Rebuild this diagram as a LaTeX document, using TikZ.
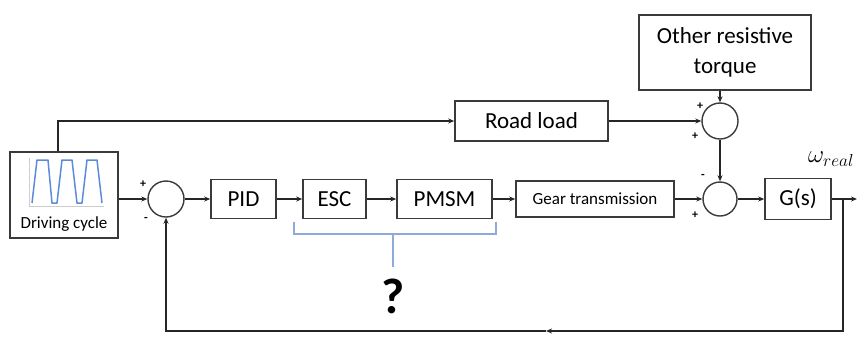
\documentclass[tikz,border=0pt]{standalone}
\usepackage{fontspec}
\setmainfont{Carlito}
\usetikzlibrary{arrows.meta,calc}
\definecolor{boxline}{HTML}{3A3A3A}
\definecolor{wave}{HTML}{5B8BD9}
\definecolor{brk}{HTML}{8EAADB}
\begin{document}
\begin{tikzpicture}[x=1pt,y=-1pt,
  blk/.style={draw=boxline,line width=1.6pt,inner sep=0pt,align=center,font=\fontsize{23}{30}\selectfont},
  sumj/.style={draw=boxline,line width=1.4pt,circle,inner sep=0pt,minimum size=36pt},
  con/.style={draw=black!85,line width=1.3pt},
  arr/.style={con,-{Stealth[length=6pt,width=5pt]}},
  sgn/.style={font=\fontsize{12}{12}\selectfont\bfseries,inner sep=0pt}]
\useasboundingbox (0,0) rectangle (864,338);
% blocks
\node[blk,minimum width=108pt,minimum height=86pt] (dc) at (64,195) {};
\node[font=\fontsize{17}{17}\selectfont,inner sep=0pt] (dct) at (64,224) {Driving cycle};
\node[blk,minimum width=65pt,minimum height=39pt] (pid) at (243.5,199) {PID};
\node[blk,minimum width=63pt,minimum height=39pt] (esc) at (334.5,199) {ESC};
\node[blk,minimum width=95pt,minimum height=39pt] (pmsm) at (444.5,199) {PMSM};
\node[blk,minimum width=158pt,minimum height=36pt,font=\fontsize{17}{17}\selectfont] (gear) at (595,199) {Gear transmission};
\node[blk,minimum width=66pt,minimum height=41pt] (gs) at (798,199) {G(s)};
\node[blk,minimum width=153pt,minimum height=40pt] (road) at (531.5,121) {Road load};
\node[blk,minimum width=172pt,minimum height=75pt] (other) at (725,52.5) {Other resistive\\torque};
% summing junctions
\node[sumj] (s1) at (166,199) {};
\node[sumj,minimum size=34pt] (s2) at (720,199) {};
\node[sumj] (s3) at (720,121) {};
% signs
\node[sgn] at (143,184) {+};
\node[sgn] at (146,219) {-};
\node[sgn] at (703,176) {-};
\node[sgn] at (695,215) {+};
\node[sgn] at (700,106) {+};
\node[sgn] at (695,136) {+};
% driving cycle plot
\draw[black!20,line width=0.6pt] (29,158) -- (29,206) -- (104,206);
\foreach \yy in {166,174,182,190,198} \draw[black!10,line width=0.4pt] (29,\yy) -- (31,\yy);
\draw[wave,line width=1.5pt,line join=round]
  (32,203) -- (37,160) -- (48,160) -- (52,203) -- (57,203) -- (62,160) -- (72,160)
  -- (77,203) -- (82,203) -- (87,160) -- (97,160) -- (102,203);
% connectors
\coordinate (dctop) at ($(dc.north)+(-6,0)$);
\draw[arr] (dctop) |- (road.west);
\draw[arr] (s1.west -| dc.east) -- (s1.west);
\draw[arr] (s1.east) -- (pid.west);
\draw[arr] (pid.east) -- (esc.west);
\draw[arr] (esc.east) -- (pmsm.west);
\draw[arr] (pmsm.east) -- (gear.west);
\draw[arr] (gear.east) -- (s2.west);
\draw[arr] (s2.east) -- (gs.west);
\coordinate (out) at (857,199);
\draw[arr] (gs.east) -- (out);
\draw[arr] (road.east) -- (s3.west);
\draw[arr] (other.south -| s3.north) -- (s3.north);
\draw[arr] (s3.south) -- (s2.north);
\coordinate (br) at (843,199);
\coordinate (fb) at (843,331);
\coordinate (mid) at (546,331);
\draw[arr] (br) -- (fb) -- (mid);
\draw[arr] (mid) -| (s1.south);
% output label
\node[inner sep=0pt,font=\fontsize{23}{23}\selectfont] (w) at (831,159) {$\omega_{real}$};
% bracket
\node[font=\fontsize{50}{50}\selectfont\bfseries,inner sep=0pt] (q) at (393,296) {?};
\coordinate (bl) at (294,222);
\coordinate (brr) at (496,222);
\coordinate (bm) at (393,234);
\coordinate (bs) at (393,267);
\draw[brk,line width=1.5pt] (bl) |- (bm) -| (brr);
\draw[brk,line width=1.5pt] (bm) -- (bs);
\end{tikzpicture}
\end{document}
